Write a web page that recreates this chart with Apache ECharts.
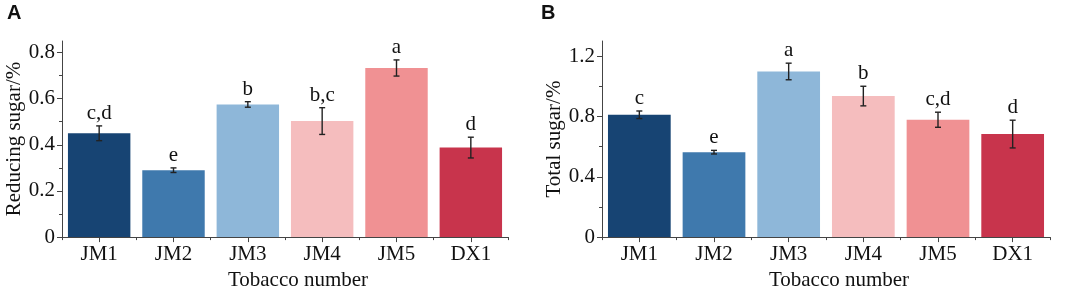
<!DOCTYPE html>
<html>
<head>
<meta charset="utf-8">
<script src="https://cdn.jsdelivr.net/npm/echarts@6/dist/echarts.min.js"></script>
<style>
  html, body { margin: 0; padding: 0; background: #fff; }
  #chart { width: 1065px; height: 296px; }
</style>
</head>
<body>
<div id="chart"></div>
<script>
const categories = ["JM1", "JM2", "JM3", "JM4", "JM5", "DX1"];
const barColors = ["#174473", "#3f79ad", "#8eb7d9", "#f5bdbe", "#f09193", "#c8344c"];

// panel A: reducing sugar
const reducingMean = [0.45, 0.29, 0.575, 0.503, 0.733, 0.388];
const reducingErr = [0.032, 0.01, 0.012, 0.058, 0.035, 0.045];
const reducingLetters = ["c,d", "e", "b", "b,c", "a", "d"];
const reducingTicks = [0, 0.2, 0.4, 0.6, 0.8];
const reducingMinor = [0.1, 0.3, 0.5, 0.7];

// panel B: total sugar
const totalMean = [0.811, 0.563, 1.098, 0.935, 0.778, 0.683];
const totalErr = [0.025, 0.012, 0.055, 0.065, 0.05, 0.092];
const totalLetters = ["c", "e", "a", "b", "c,d", "d"];
const totalTicks = [0, 0.4, 0.8, 1.2];
const totalMinor = [0.2, 0.6, 1.0];

const serif = '"Liberation Serif", "Times New Roman", serif';
const axisColor = "#444";
const fmt = (v) => (v === 0 ? "0" : v.toFixed(1));

function mainY(gridIndex, max, ticks, name) {
  return {
    type: "value", gridIndex, min: 0, max, position: "left",
    name, nameLocation: "middle", nameGap: 36,
    nameTextStyle: { fontFamily: serif, fontSize: 21, color: "#111" },
    axisLine: { show: true, lineStyle: { color: axisColor, width: 1 } },
    axisTick: { show: true, length: 5, customValues: ticks, lineStyle: { color: axisColor } },
    axisLabel: { customValues: ticks, formatter: fmt, margin: 7, fontFamily: serif, fontSize: 21, color: "#111" },
    splitLine: { show: false },
  };
}
function minorY(gridIndex, max, ticks) {
  return {
    type: "value", gridIndex, min: 0, max, position: "left", offset: 0,
    axisLine: { show: false },
    axisTick: { show: true, length: 3, customValues: ticks, lineStyle: { color: axisColor } },
    axisLabel: { show: false },
    splitLine: { show: false },
  };
}
function mainX(gridIndex) {
  return {
    type: "category", gridIndex, data: categories,
    name: "Tobacco number", nameLocation: "middle", nameGap: 30,
    nameTextStyle: { fontFamily: serif, fontSize: 21, color: "#111", padding: [0, 0, 0, 26] },
    axisLine: { show: true, lineStyle: { color: axisColor, width: 1 } },
    axisTick: { show: true, alignWithLabel: true, length: 5, lineStyle: { color: axisColor } },
    axisLabel: { margin: 7, fontFamily: serif, fontSize: 21, color: "#111" },
    splitLine: { show: false },
  };
}
function boundaryX(gridIndex) {
  return {
    type: "category", gridIndex, data: categories, position: "bottom",
    axisLine: { show: false },
    axisTick: { show: true, length: 3, lineStyle: { color: axisColor } },
    axisLabel: { show: false },
  };
}

function barSeries(xi, yi, values) {
  return {
    type: "bar", xAxisIndex: xi, yAxisIndex: yi,
    barCategoryGap: "16%",
    data: values.map((v, i) => ({ value: v, itemStyle: { color: barColors[i] } })),
  };
}
function errSeries(xi, yi, means, errs, letters) {
  return {
    type: "custom", xAxisIndex: xi, yAxisIndex: yi, z: 5,
    data: means.map((m, i) => [i, m, errs[i]]),
    renderItem(params, api) {
      const i = api.value(0), m = api.value(1), e = api.value(2);
      const top = api.coord([i, m + e]);
      const bot = api.coord([i, m - e]);
      const cw = 3;
      const ls = { stroke: "#222", lineWidth: 1.4 };
      return {
        type: "group",
        children: [
          { type: "line", shape: { x1: top[0], y1: top[1], x2: bot[0], y2: bot[1] }, style: ls },
          { type: "line", shape: { x1: top[0] - cw, y1: top[1], x2: top[0] + cw, y2: top[1] }, style: ls },
          { type: "line", shape: { x1: bot[0] - cw, y1: bot[1], x2: bot[0] + cw, y2: bot[1] }, style: ls },
          { type: "text", style: {
              text: letters[params.dataIndex], x: top[0], y: top[1] - 2,
              align: "center", verticalAlign: "bottom",
              fontFamily: serif, fontSize: 21, fill: "#111" } },
        ],
      };
    },
  };
}

const chart = echarts.init(document.getElementById("chart"));
chart.setOption({
  animation: false,
  backgroundColor: "#fff",
  graphic: [
    { type: "text", left: 7, top: 3, style: { text: "A", fontFamily: "Liberation Sans, Arial", fontWeight: "bold", fontSize: 20, fill: "#111" } },
    { type: "text", left: 541, top: 3, style: { text: "B", fontFamily: "Liberation Sans, Arial", fontWeight: "bold", fontSize: 20, fill: "#111" } },
  ],
  grid: [
    { left: 62, width: 446, top: 41, bottom: 56 },
    { left: 602, width: 448, top: 41, bottom: 56 },
  ],
  xAxis: [mainX(0), boundaryX(0), mainX(1), boundaryX(1)],
  yAxis: [
    mainY(0, 0.85, reducingTicks, "Reducing sugar/%"),
    minorY(0, 0.85, reducingMinor),
    mainY(1, 1.3, totalTicks, "Total sugar/%"),
    minorY(1, 1.3, totalMinor),
  ],
  series: [
    barSeries(0, 0, reducingMean),
    errSeries(0, 0, reducingMean, reducingErr, reducingLetters),
    barSeries(2, 2, totalMean),
    errSeries(2, 2, totalMean, totalErr, totalLetters),
  ],
});
</script>
</body>
</html>
